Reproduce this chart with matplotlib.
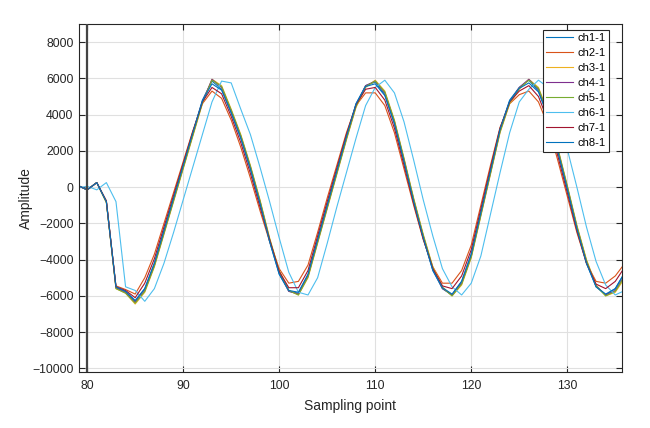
import matplotlib
matplotlib.use("Agg")
import matplotlib.pyplot as plt
import numpy as np

plt.rcParams['font.family'] = ['Liberation Sans', 'DejaVu Sans']

x = list(range(79, 137))

ch1 = [100, -150, 250, -800, -5500, -5750, -6300, -5600, -4200, -2400,
       -600, 1200, 3000, 4800, 5850, 5400, 4100, 2700, 1000, -900,
       -3000, -4800, -5750, -5850, -4850, -2900, -1000, 900, 2800, 4600,
       5600, 5800, 5100, 3500, 1400, -800, -2800, -4600, -5600, -5950,
       -5200, -3700, -1400, 900, 3200, 4800, 5500, 5900, 5300, 3900,
       2000, -100, -2300, -4200, -5500, -5950, -5600, -4700]
ch2 = [100, -150, 250, -750, -5450, -5650, -5900, -5000, -3700, -2000,
       -300, 1400, 3100, 4600, 5300, 4900, 3700, 2200, 500, -1300,
       -3000, -4500, -5300, -5200, -4300, -2500, -600, 1200, 3000, 4500,
       5200, 5200, 4500, 3000, 1000, -1000, -2900, -4400, -5300, -5300,
       -4600, -3200, -1000, 1200, 3300, 4600, 5100, 5300, 4700, 3400,
       1500, -500, -2500, -4200, -5200, -5300, -4900, -4200]
ch3 = [100, -150, 250, -850, -5600, -5850, -6450, -5800, -4400, -2600,
       -800, 1000, 2800, 4600, 5950, 5600, 4300, 2900, 1200, -700,
       -2800, -4600, -5700, -5950, -5000, -3100, -1200, 700, 2600, 4400,
       5500, 5900, 5300, 3700, 1600, -600, -2600, -4400, -5500, -6000,
       -5400, -3900, -1600, 700, 3000, 4600, 5400, 5950, 5500, 4100,
       2200, 100, -2100, -4000, -5400, -6000, -5800, -5000]
ch4 = [100, -150, 250, -800, -5550, -5800, -6350, -5700, -4300, -2500,
       -700, 1100, 2900, 4700, 5950, 5500, 4200, 2800, 1100, -800,
       -2900, -4700, -5750, -5900, -4900, -3000, -1100, 800, 2700, 4500,
       5600, 5850, 5200, 3600, 1500, -700, -2700, -4500, -5600, -5950,
       -5300, -3800, -1500, 800, 3100, 4700, 5500, 5950, 5400, 4000,
       2100, 0, -2200, -4100, -5450, -5950, -5700, -4850]
ch5 = [100, -150, 250, -850, -5600, -5850, -6400, -5750, -4350, -2550,
       -750, 1050, 2850, 4650, 5900, 5550, 4250, 2850, 1150, -750,
       -2850, -4650, -5700, -5950, -4950, -3050, -1150, 750, 2650, 4450,
       5550, 5850, 5250, 3650, 1550, -650, -2650, -4450, -5550, -6000,
       -5350, -3850, -1550, 750, 3050, 4650, 5450, 5900, 5450, 4050,
       2150, 50, -2150, -4050, -5450, -6000, -5750, -4900]
ch6 = [-50, 50, -150, 250, -800, -5500, -5700, -6300, -5600, -4200,
       -2500, -700, 1100, 2900, 4700, 5850, 5750, 4300, 2900, 1100,
       -800, -2800, -4700, -5800, -5950, -5000, -3100, -1100, 800, 2700,
       4500, 5500, 5900, 5200, 3600, 1500, -700, -2700, -4500, -5500,
       -5950, -5300, -3800, -1500, 800, 3000, 4700, 5400, 5900, 5500,
       4100, 2100, 0, -2200, -4100, -5400, -5950, -5700]
ch7 = [100, -150, 250, -780, -5500, -5700, -6100, -5300, -3950, -2200,
       -450, 1300, 3050, 4700, 5500, 5150, 3900, 2450, 750, -1100,
       -2900, -4650, -5550, -5550, -4600, -2700, -800, 1050, 2900, 4550,
       5400, 5500, 4800, 3250, 1200, -900, -2850, -4500, -5450, -5600,
       -4900, -3450, -1200, 1050, 3250, 4700, 5300, 5600, 5000, 3650,
       1750, -300, -2400, -4200, -5350, -5600, -5200, -4400]
ch8 = [100, -150, 250, -800, -5500, -5750, -6250, -5600, -4200, -2400,
       -600, 1200, 3000, 4750, 5700, 5350, 4100, 2700, 1000, -900,
       -3000, -4800, -5700, -5800, -4800, -2900, -1000, 900, 2800, 4600,
       5550, 5700, 5050, 3500, 1400, -800, -2800, -4600, -5550, -5900,
       -5200, -3700, -1400, 900, 3200, 4750, 5450, 5750, 5250, 3900,
       2000, -100, -2300, -4200, -5500, -5900, -5600, -4700]

series = [ch1, ch2, ch3, ch4, ch5, ch6, ch7, ch8]
labels = ['ch1-1', 'ch2-1', 'ch3-1', 'ch4-1', 'ch5-1', 'ch6-1', 'ch7-1', 'ch8-1']
colors = ['#0072BD', '#D95319', '#EDB120', '#7E2F8E', '#77AC30', '#4DBEEE', '#A2142F', '#0072BD']

yticks = list(range(-10000, 8001, 2000))
xticks = [80, 90, 100, 110, 120, 130]

fig = plt.figure(figsize=(6.5, 4.28), dpi=100)
ax = fig.add_axes([79/650, 1 - 372/428, (622 - 79)/650, (372 - 24)/428])

for s, lab, c in zip(series, labels, colors):
    ax.plot(x, s, color=c, lw=0.8, label=lab)

ax.axvline(80, color='#444444', lw=1.6, zorder=5)

ax.set_xlim(79.15, 135.7)
ax.set_ylim(-10200, 9000)
ax.set_xticks(xticks)
ax.set_yticks(yticks)
ax.grid(True, color='#e0e0e0', lw=0.8)
ax.set_axisbelow(True)
ax.tick_params(direction='in', length=4, width=0.8, colors='#262626',
               labelsize=8.8, top=True, right=True, labeltop=False, labelright=False)
ax.tick_params(axis='x', pad=6)
ax.tick_params(axis='y', pad=4)
for sp in ax.spines.values():
    sp.set_color('#262626')
    sp.set_linewidth(0.8)

ax.set_xlabel('Sampling point', fontsize=10, color='#262626', labelpad=5)
ax.set_ylabel('Amplitude', fontsize=10, color='#262626', labelpad=-1)

leg = ax.legend(loc='upper right', bbox_to_anchor=(609/650, 1 - 30/428),
                bbox_transform=fig.transFigure, fontsize=8, frameon=True,
                fancybox=False, edgecolor='#262626', framealpha=1,
                handlelength=2.4, labelspacing=0.45, borderpad=0.3,
                handletextpad=0.4, borderaxespad=0)
leg.get_frame().set_linewidth(0.8)

fig.savefig('out.png', dpi=100)
